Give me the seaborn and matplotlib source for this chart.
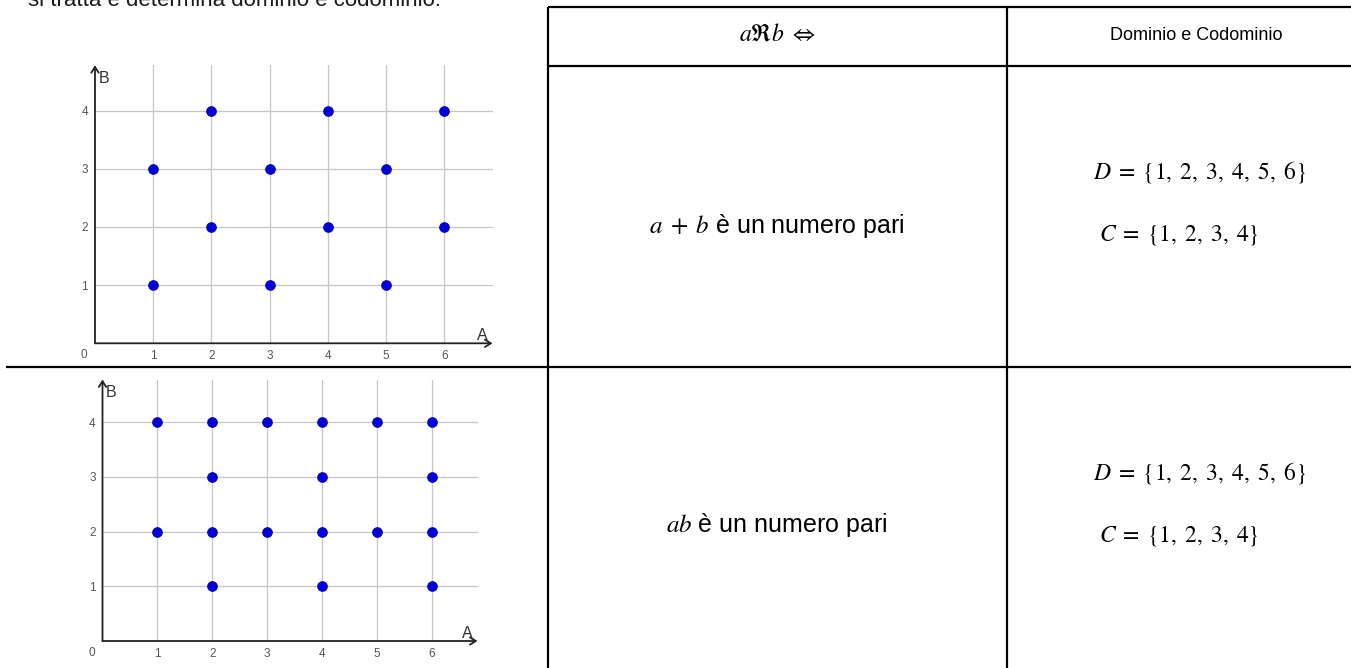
import matplotlib
matplotlib.use("Agg")
import matplotlib.pyplot as plt
import seaborn as sns

# Relation 1: a + b is even
sum_even_a = [1, 1, 2, 2, 3, 3, 4, 4, 5, 5, 6, 6]
sum_even_b = [1, 3, 2, 4, 1, 3, 2, 4, 1, 3, 2, 4]

# Relation 2: a*b is even
prod_even_a = [1, 1, 2, 2, 2, 2, 3, 3, 4, 4, 4, 4, 5, 5, 6, 6, 6, 6]
prod_even_b = [2, 4, 1, 2, 3, 4, 2, 4, 1, 2, 3, 4, 2, 4, 1, 2, 3, 4]

a_ticks = [1, 2, 3, 4, 5, 6]
b_ticks = [1, 2, 3, 4]

header_rel = r"$a\Re b\ \Leftrightarrow$"
header_dom = "Dominio e Codominio"
rule_1 = r"$a\;+\;b$ è un numero pari"
rule_2 = r"$ab$ è un numero pari"
domain_txt = r"$D\;=\;\{1,\;2,\;3,\;4,\;5,\;6\}$"
codomain_txt = r"$C\;=\;\{1,\;2,\;3,\;4\}$"
intro_txt = "si tratta e determina dominio e codominio."

sns.set_theme(style="white")
plt.rcParams["font.family"] = ["Liberation Sans", "DejaVu Sans"]
plt.rcParams["mathtext.fontset"] = "stix"

W, H = 1351, 668
fig = plt.figure(figsize=(W / 100, H / 100), dpi=100)
fig.patch.set_facecolor("white")

# overlay in pixel coordinates for the table grid and cell text
ov = fig.add_axes([0, 0, 1, 1])
ov.set_xlim(0, W)
ov.set_ylim(H, 0)
ov.axis("off")

LW = 1.6
ov.plot([548, W], [7, 7], color="black", lw=LW, solid_capstyle="butt")
ov.plot([548, W], [66, 66], color="black", lw=LW, solid_capstyle="butt")
ov.plot([6, W], [367, 367], color="black", lw=LW, solid_capstyle="butt")
ov.plot([548, 548], [7, H], color="black", lw=LW, solid_capstyle="butt")
ov.plot([1007, 1007], [7, H], color="black", lw=LW, solid_capstyle="butt")

ov.text(28, 6, intro_txt, fontsize=16, color="#1a1a1a", va="baseline", ha="left")
ov.text(777, 35, header_rel, fontsize=17, ha="center", va="center", color="black")
ov.text(1196, 35, header_dom, fontsize=13, ha="center", va="center", color="black")

for yc, rule, yd, yc2 in [(226, rule_1, 172, 235), (525, rule_2, 473, 536)]:
    ov.text(777, yc, rule, fontsize=18, ha="center", va="center", color="black")
    ov.text(1200, yd, domain_txt, fontsize=17, ha="center", va="center", color="black")
    ov.text(1179, yc2, codomain_txt, fontsize=17, ha="center", va="center", color="black")

XMAX, YMAX = 6.83, 4.78


def make_axes(x0, right, y_bottom, y_top):
    return fig.add_axes([x0 / W, 1 - y_bottom / H, (right - x0) / W, (y_bottom - y_top) / H])


def draw_chart(ax, xs, ys):
    ax.set_facecolor("none")
    sns.scatterplot(x=xs, y=ys, ax=ax, s=52, color="#0000d8",
                    edgecolor="#00008b", linewidth=0.4, zorder=3, legend=False)
    ax.set_xlim(0, XMAX)
    ax.set_ylim(0, YMAX)
    ax.set_xticks(a_ticks)
    ax.set_yticks(b_ticks)
    ax.set_xticklabels([str(v) for v in a_ticks])
    ax.set_yticklabels([str(v) for v in b_ticks])
    ax.grid(True, color="#c6c6c6", lw=0.9, zorder=0)
    ax.set_axisbelow(True)
    for s in ax.spines.values():
        s.set_visible(False)
    ax.tick_params(length=0, labelsize=8.5, labelcolor="#555555")
    ax.tick_params(axis="x", pad=5)
    ax.tick_params(axis="y", pad=5)
    ax.set_xlabel("")
    ax.set_ylabel("")
    arrow = dict(arrowstyle="->,head_length=0.35,head_width=0.22",
                 color="#222222", lw=1.3, shrinkA=0, shrinkB=0)
    ax.annotate("", xy=(1, 0), xytext=(0, 0), xycoords="axes fraction",
                textcoords="axes fraction", arrowprops=arrow, annotation_clip=False)
    ax.annotate("", xy=(0, 1), xytext=(0, 0), xycoords="axes fraction",
                textcoords="axes fraction", arrowprops=arrow, annotation_clip=False)
    ax.annotate("0", xy=(0, 0), xycoords="axes fraction", xytext=(-11, -12),
                textcoords="offset pixels", ha="center", va="center",
                fontsize=8.5, color="#555555", annotation_clip=False)
    ax.annotate("B", xy=(0, 1), xycoords="axes fraction", xytext=(9, -13),
                textcoords="offset pixels", ha="center", va="center",
                fontsize=11.5, color="#333333", annotation_clip=False)
    ax.annotate("A", xy=(1, 0), xycoords="axes fraction", xytext=(-10, 8),
                textcoords="offset pixels", ha="center", va="center",
                fontsize=11.5, color="#333333", annotation_clip=False)


ax1 = make_axes(95, 492.5, 343.3, 65.2)
draw_chart(ax1, sum_even_a, sum_even_b)

ax2 = make_axes(102.5, 477.5, 641, 379.5)
draw_chart(ax2, prod_even_a, prod_even_b)

fig.savefig("out.png", dpi=100, facecolor="white")
